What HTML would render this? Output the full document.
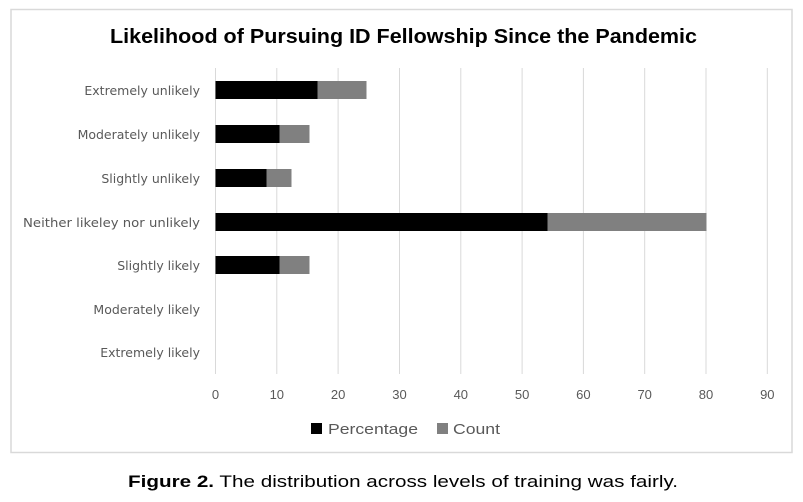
<!DOCTYPE html>
<html><head><style>
body{margin:0;background:#fff;width:803px;height:497px;overflow:hidden;font-family:"Liberation Sans",sans-serif}
</style></head><body>
<svg width="803" height="497" xmlns="http://www.w3.org/2000/svg">
<rect x="11" y="9.5" width="781" height="443" fill="#fff" stroke="#d9d9d9" stroke-width="1.5"/>
<text x="110" y="43" font-size="20" font-weight="bold" fill="#000" textLength="587" lengthAdjust="spacingAndGlyphs">Likelihood of Pursuing ID Fellowship Since the Pandemic</text>
<g stroke="#d9d9d9" stroke-width="1">
<line x1="215.5" y1="68" x2="215.5" y2="374"/><line x1="276.8" y1="68" x2="276.8" y2="374"/><line x1="338.1" y1="68" x2="338.1" y2="374"/><line x1="399.5" y1="68" x2="399.5" y2="374"/><line x1="460.8" y1="68" x2="460.8" y2="374"/><line x1="522.1" y1="68" x2="522.1" y2="374"/><line x1="583.4" y1="68" x2="583.4" y2="374"/><line x1="644.7" y1="68" x2="644.7" y2="374"/><line x1="706" y1="68" x2="706" y2="374"/><line x1="767.3" y1="68" x2="767.3" y2="374"/>
</g>
<g fill="#000">
<rect x="215.5" y="81" width="102" height="18"/>
<rect x="215.5" y="125" width="64" height="18"/>
<rect x="215.5" y="169" width="51" height="18"/>
<rect x="215.5" y="213" width="332" height="18"/>
<rect x="215.5" y="256" width="64" height="18"/>
</g>
<g fill="#808080">
<rect x="317.5" y="81" width="49" height="18"/>
<rect x="279.5" y="125" width="30" height="18"/>
<rect x="266.5" y="169" width="25" height="18"/>
<rect x="547.5" y="213" width="159" height="18"/>
<rect x="279.5" y="256" width="30" height="18"/>
</g>
<g font-size="13.5" fill="#595959" text-anchor="end" font-family="DejaVu Sans, sans-serif" style="font-size:12.5px">
<text x="200" y="95">Extremely unlikely</text>
<text x="200" y="139">Moderately unlikely</text>
<text x="200" y="183">Slightly unlikely</text>
<text x="200" y="227" textLength="177" lengthAdjust="spacingAndGlyphs">Neither likeley nor unlikely</text>
<text x="200" y="270">Slightly likely</text>
<text x="200" y="314">Moderately likely</text>
<text x="200" y="357">Extremely likely</text>
</g>
<g font-size="13" fill="#595959" text-anchor="middle">
<text x="215.5" y="399">0</text><text x="276.8" y="399">10</text><text x="338.1" y="399">20</text><text x="399.5" y="399">30</text><text x="460.8" y="399">40</text><text x="522.1" y="399">50</text><text x="583.4" y="399">60</text><text x="644.7" y="399">70</text><text x="706" y="399">80</text><text x="767.3" y="399">90</text>
</g>
<rect x="311" y="423" width="11" height="11" fill="#000"/>
<text x="328" y="434" font-size="15" fill="#595959" textLength="90" lengthAdjust="spacingAndGlyphs">Percentage</text>
<rect x="437" y="423" width="11" height="11" fill="#808080"/>
<text x="453" y="434" font-size="15" fill="#595959" textLength="47" lengthAdjust="spacingAndGlyphs">Count</text>
<text x="128" y="487" font-size="17" fill="#000" textLength="550" lengthAdjust="spacingAndGlyphs"><tspan font-weight="bold">Figure 2.</tspan> The distribution across levels of training was fairly.</text>
</svg>
</body></html>
